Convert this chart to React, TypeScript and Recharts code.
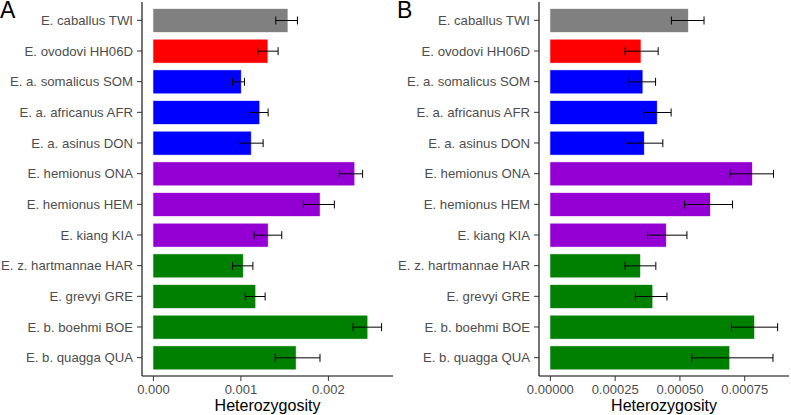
import React from "react";
import { BarChart, Bar, XAxis, YAxis, ErrorBar, Cell } from "recharts";

// species, top to bottom
const species = [
  "E. caballus TWI",
  "E. ovodovi HH06D",
  "E. a. somalicus SOM",
  "E. a. africanus AFR",
  "E. a. asinus DON",
  "E. hemionus ONA",
  "E. hemionus HEM",
  "E. kiang KIA",
  "E. z. hartmannae HAR",
  "E. grevyi GRE",
  "E. b. boehmi BOE",
  "E. b. quagga QUA",
];
const groups = [
  "horse", "ovodovi", "ass", "ass", "ass",
  "hemione", "hemione", "hemione",
  "zebra", "zebra", "zebra", "zebra",
];

// panel A
const hetA = [0.001532, 0.001303, 0.001, 0.001209, 0.001114, 0.002295, 0.001901, 0.001308, 0.001023, 0.001163, 0.002444, 0.001627];
const hetALow = [0.001399, 0.001193, 0.000904, 0.001098, 0.000984, 0.002124, 0.001714, 0.001152, 0.000904, 0.001049, 0.002281, 0.001391];
const hetAHigh = [0.001646, 0.001425, 0.001041, 0.001311, 0.001254, 0.002391, 0.002068, 0.001467, 0.001137, 0.001277, 0.002608, 0.001904];
const ticksA = [0, 0.001, 0.002];

// panel B
const hetB = [0.000531, 0.000348, 0.000355, 0.000411, 0.000361, 0.000778, 0.000616, 0.000446, 0.000346, 0.000393, 0.000786, 0.00069];
const hetBLow = [0.000467, 0.000288, 0.000304, 0.00036, 0.00029, 0.000693, 0.000518, 0.000375, 0.000288, 0.000328, 0.000699, 0.000546];
const hetBHigh = [0.000593, 0.000416, 0.000406, 0.000466, 0.000434, 0.000861, 0.000703, 0.000527, 0.000407, 0.00045, 0.000877, 0.000859];
const ticksB = [0, 0.00025, 0.0005, 0.00075];

const groupColors: Record<string, string> = {
  horse: "#808080",
  ovodovi: "#FF0000",
  ass: "#0000FF",
  hemione: "#9400D3",
  zebra: "#008000",
};

const FONT = "'Liberation Sans', Arial, Helvetica, sans-serif";

// plain svg text so long names never wrap
const YTick = (props: any) => {
  const { x, y, payload } = props;
  return (
    <text x={x - 2} y={y} dy="0.35em" textAnchor="end" fill="#4D4D4D" fontSize={13.2} fontFamily={FONT}>
      {payload.value}
    </text>
  );
};

const makeXTick = (digits: number) => (props: any) => {
  const { x, y, payload } = props;
  return (
    <text x={x} y={y + 2} dy="0.71em" textAnchor="middle" fill="#4D4D4D" fontSize={13} fontFamily={FONT}>
      {Number(payload.value).toFixed(digits)}
    </text>
  );
};

type PanelProps = {
  letter: string;
  left: number;
  width: number;
  yAxisWidth: number;
  values: number[];
  lows: number[];
  highs: number[];
  ticks: number[];
  digits: number;
};

const Panel = ({ letter, left, width, yAxisWidth, values, lows, highs, ticks, digits }: PanelProps) => {
  const data = species.map((name, i) => ({
    name,
    group: groups[i],
    value: values[i],
    err: [values[i] - lows[i], highs[i] - values[i]],
  }));
  const top = Math.max(...highs);
  const domain = [-0.05 * top, 1.05 * top];

  return (
    <div style={{ position: "absolute", left, top: 0, width, height: 415 }}>
      <BarChart
        width={width}
        height={415}
        data={data}
        layout="vertical"
        margin={{ top: 2, right: 2, bottom: 0, left: 0 }}
        style={{ fontFamily: FONT }}
      >
        <XAxis
          type="number"
          domain={domain}
          ticks={ticks}
          allowDataOverflow
          height={39}
          tickSize={5}
          axisLine={{ stroke: "#000", strokeWidth: 1.1 }}
          tickLine={{ stroke: "#333" }}
          tick={makeXTick(digits)}
          label={{ value: "Heterozygosity", position: "insideBottom", offset: 4, fill: "#000", fontSize: 16 }}
        />
        <YAxis
          type="category"
          dataKey="name"
          width={yAxisWidth}
          padding={{ top: 3, bottom: 3 }}
          tickSize={5}
          axisLine={{ stroke: "#000", strokeWidth: 1.1 }}
          tickLine={{ stroke: "#333" }}
          tick={<YTick />}
          interval={0}
        />
        <Bar dataKey="value" barSize={23} isAnimationActive={false}>
          {data.map((d) => (
            <Cell
              key={d.name}
              fill={groupColors[d.group]}
              stroke={groupColors[d.group]}
              strokeOpacity={0.35}
              strokeWidth={1}
            />
          ))}
          <ErrorBar dataKey="err" direction="x" width={4} stroke="#000" strokeWidth={1} />
        </Bar>
      </BarChart>
      <div
        style={{
          position: "absolute",
          left: letter === "A" ? 0 : 2,
          top: 1,
          fontFamily: FONT,
          fontSize: 23,
          lineHeight: "18px",
          color: "#000",
        }}
      >
        {letter}
      </div>
    </div>
  );
};

export default function App() {
  return (
    <div style={{ position: "absolute", left: 0, top: 0, width: 791, height: 415, background: "#fff" }}>
      <Panel letter="A" left={0} width={395} yAxisWidth={142} values={hetA} lows={hetALow} highs={hetAHigh} ticks={ticksA} digits={3} />
      <Panel letter="B" left={395} width={396} yAxisWidth={144} values={hetB} lows={hetBLow} highs={hetBHigh} ticks={ticksB} digits={5} />
    </div>
  );
}
